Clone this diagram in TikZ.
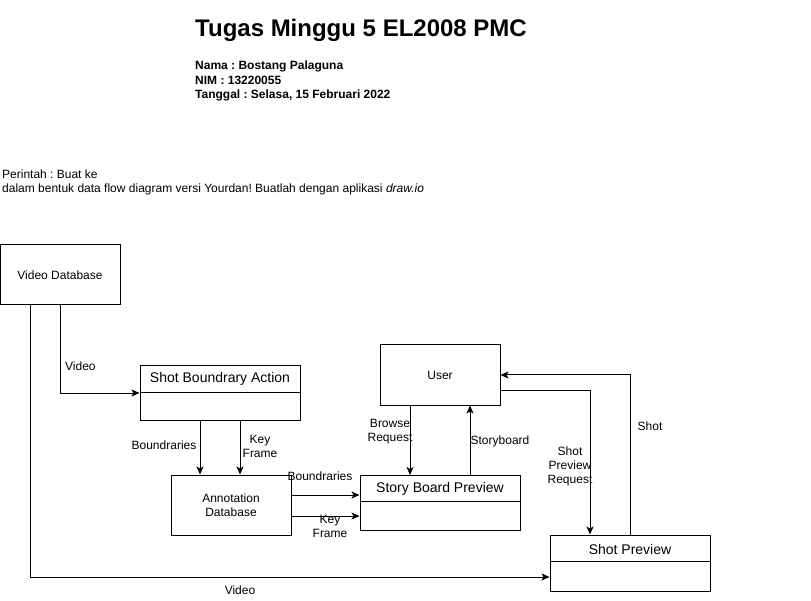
\documentclass[tikz,border=0pt]{standalone}
\usepackage{fontspec}
\setmainfont{Liberation Sans}
\usetikzlibrary{arrows.meta}
\frenchspacing
\begin{document}
\begin{tikzpicture}[x=1pt,y=-1pt,
  box/.style={draw, line width=1pt, inner sep=0pt, font=\fontsize{12}{14}\selectfont, align=center},
  ttl/.style={inner sep=0pt, font=\fontsize{14}{16}\selectfont},
  lbl/.style={inner sep=0pt, font=\fontsize{12}{14}\selectfont, align=center},
  divider/.style={line width=1pt},
  flow/.style={line width=1pt, -{Stealth[length=8pt,width=7pt,inset=2pt]}}]
\useasboundingbox (0,0) rectangle (811,601);
% header texts
\node[anchor=west, inner sep=0pt, font=\fontsize{24}{28}\selectfont\bfseries] (title) at (195,30) {Tugas Minggu 5 EL2008 PMC};
\node[anchor=north west, inner sep=0pt, align=left, font=\fontsize{12}{14.5}\selectfont\bfseries] (info) at (195,61) {Nama : Bostang Palaguna\\NIM : 13220055\\Tanggal : Selasa, 15 Februari 2022};
\node[anchor=north west, inner sep=0pt, align=left, font=\fontsize{12}{14}\selectfont] (task) at (2,170) {Perintah : Buat ke\\dalam bentuk data flow diagram versi Yourdan! Buatlah dengan aplikasi \textit{draw.io}};
% boxes
\node[box, minimum width=120pt, minimum height=60pt] (vdb) at (60,275) {Video Database};
\node[box, minimum width=160pt, minimum height=55pt] (sba) at (220,393) {};
\node[ttl] (sbat) at (220,379) {Shot Boundrary Action};
\draw[divider] (sba.west |- 0,392) -- (sba.east |- 0,392);
\node[box, minimum width=120pt, minimum height=60pt] (ann) at (231,505) {Annotation\\Database};
\node[box, minimum width=120pt, minimum height=60pt] (user) at (440,375) {User};
\node[box, minimum width=160pt, minimum height=55pt] (sbp) at (440,503) {};
\node[ttl] (sbpt) at (440,489) {Story Board Preview};
\draw[divider] (sbp.west |- 0,501) -- (sbp.east |- 0,501);
\node[box, minimum width=160pt, minimum height=56pt] (sp) at (630,563) {};
\node[ttl] (spt) at (630,549) {Shot Preview};
\draw[divider] (sp.west |- 0,561) -- (sp.east |- 0,561);
% connectors
\draw[flow] (vdb.south) |- (sba.west);
\draw[flow] ([xshift=-30pt]vdb.south) |- ([yshift=-14pt]sp.west);
\draw[flow] ([xshift=-20pt]sba.south) -- ([xshift=-20pt]sba.south |- ann.north);
\draw[flow] ([xshift=20pt]sba.south) -- ([xshift=20pt]sba.south |- ann.north);
\draw[flow] ([yshift=10pt]ann.east) -- ([yshift=10pt]ann.east -| sbp.west);
\draw[flow] ([yshift=-11pt]ann.east) -- ([yshift=-11pt]ann.east -| sbp.west);
\draw[flow] ([xshift=-30pt]user.south) -- ([xshift=-30pt]user.south |- sbp.north);
\draw[flow] ([xshift=30pt]sbp.north) -- ([xshift=30pt]sbp.north |- user.south);
\draw[flow] ([yshift=-15pt]user.east) -| ([xshift=-40pt]sp.north);
\draw[flow] (sp.north) |- (user.east);
% labels
\node[lbl, anchor=west] (l1) at (65,366) {Video};
\node[lbl] (l2) at (240,590) {Video};
\node[lbl] (l3) at (164,445) {Boundraries};
\node[lbl] (l4) at (260,446) {Key\\Frame};
\node[lbl] (l5) at (320,476) {Boundraries};
\node[lbl] (l6) at (330,526) {Key\\Frame};
\node[lbl] (l7) at (390,432) {Browse\\Request};
\node[lbl] (l8) at (500,441) {Storyboard};
\node[lbl] (l9) at (570,466) {Shot\\Preview\\Request};
\node[lbl] (l10) at (650,426) {Shot};
\end{tikzpicture}
\end{document}
